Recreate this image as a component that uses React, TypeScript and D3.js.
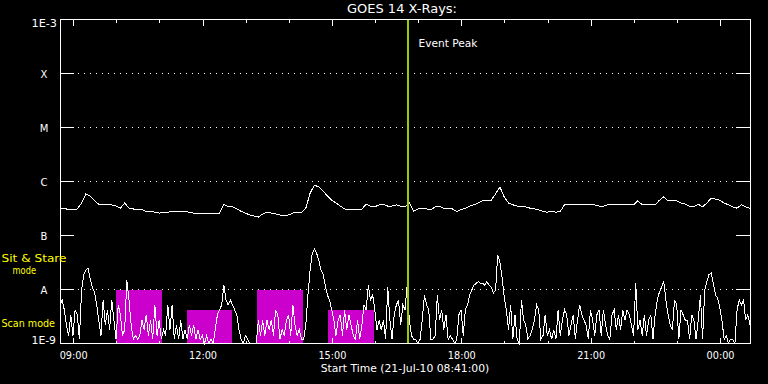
import React from "react";
import * as d3 from "d3";

// ---------------- DATA ----------------
const START_UTC = Date.UTC(2010, 6, 21, 8, 41); // 21-Jul-10 08:41:00
const SPAN_HOURS = 16;

// Long channel (1-8 A) flux, W/m^2, one sample every 6 minutes from start
const LONG_STEP_MIN = 6;
const longFlux = [
  3.1e-7, 3.2e-7, 3.0e-7, 3.0e-7, 3.1e-7, 4.0e-7, 5.9e-7, 5.4e-7, 4.4e-7, 3.8e-7,
  3.7e-7, 3.8e-7, 3.7e-7, 3.5e-7, 3.2e-7, 4.0e-7, 3.2e-7, 3.1e-7, 3.0e-7, 3.0e-7,
  2.8e-7, 2.8e-7, 2.7e-7, 2.6e-7, 2.7e-7, 2.7e-7, 2.8e-7, 2.8e-7, 2.8e-7, 2.8e-7,
  2.7e-7, 2.6e-7, 2.6e-7, 2.6e-7, 2.6e-7, 2.6e-7, 2.5e-7, 2.6e-7, 3.8e-7, 3.4e-7,
  3.4e-7, 3.1e-7, 2.8e-7, 2.6e-7, 2.4e-7, 2.3e-7, 2.2e-7, 2.5e-7, 2.7e-7, 2.6e-7,
  2.5e-7, 2.4e-7, 2.3e-7, 2.4e-7, 2.6e-7, 2.7e-7, 2.7e-7, 3.2e-7, 6.1e-7, 8.6e-7,
  7.9e-7, 6.7e-7, 5.4e-7, 4.5e-7, 4.0e-7, 3.5e-7, 3.1e-7, 3.0e-7, 3.0e-7, 3.0e-7,
  3.1e-7, 3.8e-7, 3.5e-7, 3.4e-7, 3.7e-7, 3.8e-7, 3.5e-7, 3.5e-7, 3.7e-7, 3.5e-7,
  3.4e-7, 4.0e-7, 2.8e-7, 3.1e-7, 3.2e-7, 3.1e-7, 3.0e-7, 3.4e-7, 3.5e-7, 3.2e-7,
  3.1e-7, 3.1e-7, 2.8e-7, 3.0e-7, 3.2e-7, 3.5e-7, 3.7e-7, 4.0e-7, 4.4e-7, 4.4e-7,
  4.5e-7, 5.9e-7, 7.9e-7, 5.2e-7, 4.0e-7, 3.7e-7, 3.5e-7, 3.5e-7, 3.4e-7, 3.2e-7,
  3.1e-7, 3.0e-7, 2.8e-7, 2.7e-7, 2.8e-7, 2.7e-7, 2.8e-7, 3.7e-7, 3.8e-7, 3.7e-7,
  3.7e-7, 3.8e-7, 3.7e-7, 3.8e-7, 3.7e-7, 3.5e-7, 3.5e-7, 3.7e-7, 3.7e-7, 3.8e-7,
  3.8e-7, 3.7e-7, 3.7e-7, 3.7e-7, 4.4e-7, 3.7e-7, 3.7e-7, 3.8e-7, 3.7e-7, 4.5e-7,
  5.2e-7, 4.4e-7, 4.5e-7, 4.4e-7, 4.0e-7, 3.8e-7, 3.5e-7, 3.4e-7, 3.8e-7, 3.4e-7,
  4.0e-7, 4.9e-7, 4.7e-7, 4.5e-7, 4.0e-7, 3.7e-7, 3.4e-7, 3.2e-7, 3.7e-7, 3.4e-7,
  3.2e-7,
];

// Short channel (0.5-4 A) flux, W/m^2, one sample every 3 minutes from start
const SHORT_STEP_MIN = 3;
const shortFlux = [
  5.2e-9, 6.4e-9, 4.2e-9, 2.2e-9, 1.4e-9, 3.4e-9, 1.4e-9, 4.2e-9, 3.4e-9, 1.2e-9,
  9.8e-9, 1.9e-8, 2.3e-8, 2.5e-8, 1.6e-8, 1.1e-8, 9.0e-9, 5.2e-9, 2.7e-9, 1.4e-9,
  6.4e-9, 2.2e-9, 4.2e-9, 1.8e-9, 6.4e-9, 2.7e-9, 1.2e-9, 5.2e-9, 3.4e-9, 1.4e-9,
  1.8e-9, 1.5e-8, 6.4e-9, 2.2e-9, 1.2e-9, 1.4e-9, 1.2e-9, 1.4e-9, 2.7e-9, 1.8e-9,
  3.4e-9, 1.4e-9, 2.7e-9, 1.2e-9, 5.2e-9, 1.4e-9, 2.7e-9, 1.2e-9, 1.8e-9, 1.4e-9,
  5.2e-9, 1.8e-9, 5.2e-9, 1.2e-9, 2.2e-9, 1.2e-9, 2.7e-9, 1.2e-9, 1.8e-9, 1.2e-9,
  2.2e-9, 1.4e-9, 2.2e-9, 1.2e-9, 1.8e-9, 1.2e-9, 1.4e-9, 1.0e-9, 1.4e-9, 1.0e-9,
  1.2e-9, 1.0e-9, 1.8e-9, 3.4e-9, 4.2e-9, 5.2e-9, 1.2e-8, 6.4e-9, 5.2e-9, 6.4e-9,
  5.2e-9, 4.2e-9, 3.4e-9, 1.8e-9, 1.2e-9, 1.0e-9, 1.4e-9, 1.2e-9, 1.0e-9, 1.0e-9,
  1.0e-9, 1.0e-9, 2.7e-9, 1.4e-9, 2.7e-9, 1.4e-9, 2.7e-9, 1.8e-9, 2.7e-9, 1.4e-9,
  4.2e-9, 3.4e-9, 1.2e-9, 1.8e-9, 1.4e-9, 2.7e-9, 3.4e-9, 1.4e-9, 5.2e-9, 2.2e-9,
  1.4e-9, 1.8e-9, 1.2e-9, 1.2e-9, 2.2e-9, 7.9e-9, 2.3e-8, 4.7e-8, 5.6e-8, 4.7e-8,
  3.5e-8, 2.3e-8, 1.9e-8, 1.2e-8, 7.9e-9, 6.4e-9, 4.2e-9, 2.7e-9, 1.4e-9, 2.7e-9,
  3.4e-9, 1.4e-9, 4.2e-9, 1.8e-9, 3.4e-9, 2.2e-9, 1.4e-9, 1.2e-9, 2.7e-9, 1.2e-9,
  2.2e-9, 5.2e-9, 4.2e-9, 1.2e-8, 6.4e-9, 7.9e-9, 4.2e-9, 1.8e-9, 2.7e-9, 1.8e-9,
  2.7e-9, 1.2e-9, 1.1e-8, 2.7e-9, 1.2e-9, 3.4e-9, 5.2e-9, 6.4e-9, 2.2e-9, 5.2e-9,
  4.2e-9, 1.2e-8, 2.7e-9, 1.4e-9, 1.2e-9, 1.2e-9, 1.0e-9, 1.2e-9, 2.7e-9, 7.9e-9,
  5.2e-9, 4.2e-9, 1.2e-9, 1.2e-9, 1.4e-9, 7.9e-9, 2.7e-9, 4.2e-9, 1.8e-9, 3.4e-9,
  1.2e-9, 1.4e-9, 1.2e-9, 1.0e-9, 1.2e-9, 3.4e-9, 4.2e-9, 1.4e-9, 4.2e-9, 5.2e-9,
  7.9e-9, 9.8e-9, 1.2e-8, 1.3e-8, 1.4e-8, 1.3e-8, 1.3e-8, 1.2e-8, 1.4e-8, 1.2e-8,
  1.1e-8, 8.6e-9, 9.8e-9, 4.4e-8, 3.2e-8, 1.7e-8, 7.3e-9, 4.2e-9, 1.8e-9, 5.2e-9,
  1.2e-9, 3.4e-9, 1.2e-9, 1.0e-9, 6.4e-9, 2.7e-9, 2.2e-9, 1.2e-9, 1.4e-9, 1.8e-9,
  2.7e-9, 5.2e-9, 4.2e-9, 1.2e-9, 1.4e-9, 3.4e-9, 1.4e-9, 1.8e-9, 1.2e-9, 1.8e-9,
  1.2e-9, 4.2e-9, 1.4e-9, 2.7e-9, 4.2e-9, 3.4e-9, 1.4e-9, 2.2e-9, 3.4e-9, 1.2e-9,
  2.7e-9, 5.2e-9, 3.4e-9, 2.7e-9, 2.2e-9, 1.2e-9, 4.2e-9, 2.7e-9, 1.4e-9, 3.4e-9,
  4.2e-9, 1.4e-9, 4.2e-9, 2.2e-9, 1.4e-9, 1.2e-9, 3.4e-9, 4.2e-9, 1.8e-9, 3.4e-9,
  1.8e-9, 4.2e-9, 2.7e-9, 4.2e-9, 3.4e-9, 2.2e-9, 1.4e-9, 1.3e-8, 1.8e-9, 2.7e-9,
  1.4e-9, 3.4e-9, 1.4e-9, 2.7e-9, 3.4e-9, 1.2e-9, 3.4e-9, 6.4e-9, 9.0e-9, 1.1e-8,
  1.4e-8, 6.4e-9, 3.4e-9, 2.2e-9, 1.8e-9, 6.4e-9, 5.2e-9, 1.2e-9, 4.2e-9, 3.4e-9,
  2.7e-9, 2.7e-9, 1.2e-9, 3.4e-9, 2.7e-9, 1.2e-9, 2.7e-9, 7.9e-9, 1.2e-9, 9.8e-9,
  1.4e-8, 1.9e-8, 2.0e-8, 1.3e-8, 7.9e-9, 7.0e-9, 4.5e-9, 2.7e-9, 1.2e-9, 1.4e-9,
  1.0e-9, 1.2e-9, 1.2e-9, 1.0e-9, 4.2e-9, 6.4e-9, 5.2e-9, 6.4e-9, 2.7e-9, 3.4e-9,
  2.2e-9,
];

// Y axis labels (flux levels)
const levelFlux = [1e-9, 1e-8, 1e-7, 1e-6, 1e-5, 1e-4, 1e-3];
const levelLabels = ["1E-9", "A", "B", "C", "M", "X", "1E-3"];
const gridLevels = [1e-8, 1e-6, 1e-5, 1e-4];

// SXI mode intervals (magenta)
const modeStart = ["09:59", "11:38", "13:15", "14:54"];
const modeEnd = ["11:03", "12:40", "14:19", "15:58"];
const modeLevel = [1e-8, 4.2e-9, 1e-8, 4.2e-9];

const eventPeak = "16:45";
const titleText = "GOES 14 X-Rays:";
const xTitleText = "Start Time (21-Jul-10 08:41:00)";

// ---------------- CHART ----------------
const W = 768;
const H = 384;
const X0 = 60;
const X1 = 750;
const Y_TOP = 19.5;
const Y_BOT = 343.5;

function hm(s: string): Date {
  const [h, m] = s.split(":").map(Number);
  return new Date(Date.UTC(2010, 6, 21, h, m));
}

const FONT = "'DejaVu Sans', sans-serif";

export default function App() {
  const start = new Date(START_UTC);
  const end = new Date(START_UTC + SPAN_HOURS * 3600e3);
  const xs = d3.scaleUtc().domain([start, end]).range([X0, X1]);
  const ys = d3.scaleLog().domain([1e-9, 1e-3]).range([Y_BOT, Y_TOP]).clamp(true);

  const longPts = longFlux.map((v, i) => [new Date(START_UTC + i * LONG_STEP_MIN * 60e3), v] as [Date, number]);
  const shortPts = shortFlux.map((v, i) => [new Date(START_UTC + i * SHORT_STEP_MIN * 60e3), v] as [Date, number]);
  const line = d3
    .line<[Date, number]>()
    .x((d) => xs(d[0]))
    .y((d) => ys(d[1]));

  const hourTicks = xs.ticks(d3.utcHour.every(1)!);
  const fmt = d3.utcFormat("%H:%M");

  const px = (v: number) => Math.round(v) + 0.5;

  return (
    <svg
      width={W}
      height={H}
      style={{ position: "absolute", left: 0, top: 0, display: "block" }}
      fontFamily={FONT}
    >
      <rect x={0} y={0} width={W} height={H} fill="#000" />

      {/* mode bars */}
      {modeStart.map((s, i) => {
        const xa = xs(hm(s));
        const xb = xs(hm(modeEnd[i]));
        const yt = ys(modeLevel[i]);
        return (
          <rect
            key={"m" + i}
            x={Math.round(xa)}
            y={Math.round(yt)}
            width={Math.round(xb) - Math.round(xa)}
            height={Y_BOT - Math.round(yt)}
            fill="#cc00cc"
            shapeRendering="crispEdges"
          />
        );
      })}

      {/* grid dotted lines + level ticks */}
      {gridLevels.map((v, i) => (
        <line
          key={"g" + i}
          x1={78}
          x2={736}
          y1={px(ys(v) - 0.5)}
          y2={px(ys(v) - 0.5)}
          stroke="#fff"
          strokeDasharray="1 5"
          shapeRendering="crispEdges"
        />
      ))}
      {levelFlux.slice(1, -1).map((v, i) => (
        <g key={"lt" + i} shapeRendering="crispEdges" stroke="#fff">
          <line x1={X0} x2={X0 + 14} y1={px(ys(v) - 0.5)} y2={px(ys(v) - 0.5)} />
          <line x1={X1 - 14} x2={X1} y1={px(ys(v) - 0.5)} y2={px(ys(v) - 0.5)} />
        </g>
      ))}

      {/* data */}
      <path d={line(longPts) || ""} fill="none" stroke="#fff" strokeWidth={1} shapeRendering="crispEdges" />
      <path d={line(shortPts) || ""} fill="none" stroke="#fff" strokeWidth={1} shapeRendering="crispEdges" />

      {/* event peak */}
      <line
        x1={Math.round(xs(hm(eventPeak)))}
        x2={Math.round(xs(hm(eventPeak)))}
        y1={Y_TOP}
        y2={Y_BOT}
        stroke="#99cc00"
        strokeWidth={2}
        shapeRendering="crispEdges"
      />
      <text x={418.5} y={46.5} fill="#fff" fontSize={10} textLength={59} lengthAdjust="spacingAndGlyphs">
        Event Peak
      </text>

      {/* frame */}
      <rect
        x={X0 + 0.5}
        y={Y_TOP}
        width={X1 - X0}
        height={Y_BOT - Y_TOP}
        fill="none"
        stroke="#fff"
        shapeRendering="crispEdges"
      />

      {/* time ticks top & bottom */}
      {hourTicks.map((t, i) => {
        const major = t.getUTCHours() % 3 === 0;
        const len = major ? 6 : 3;
        const x = px(xs(t) - 0.5);
        return (
          <g key={"t" + i} stroke="#fff" shapeRendering="crispEdges">
            <line x1={x} x2={x} y1={Y_TOP} y2={Y_TOP + len} />
            <line x1={x} x2={x} y1={Y_BOT} y2={Y_BOT - len} />
          </g>
        );
      })}
      {hourTicks
        .filter((t) => t.getUTCHours() % 3 === 0)
        .map((t, i) => (
          <text
            key={"tl" + i}
            x={xs(t)}
            y={358.5}
            fill="#fff"
            fontSize={10}
            textAnchor="middle"
            textLength={28}
            lengthAdjust="spacingAndGlyphs"
          >
            {fmt(t)}
          </text>
        ))}

      {/* y labels */}
      {levelFlux.map((v, i) => {
        const lab = levelLabels[i];
        const y = ys(v);
        if (i === 0)
          return (
            <text key={"yl" + i} x={31.5} y={y} fill="#fff" fontSize={10} textLength={24.5} lengthAdjust="spacingAndGlyphs">
              {lab}
            </text>
          );
        if (i === levelFlux.length - 1)
          return (
            <text key={"yl" + i} x={31.5} y={y + 7.3} fill="#fff" fontSize={10} textLength={25.5} lengthAdjust="spacingAndGlyphs">
              {lab}
            </text>
          );
        return (
          <text key={"yl" + i} x={44} y={y + 4} fill="#fff" fontSize={10} textAnchor="middle">
            {lab}
          </text>
        );
      })}

      {/* mode labels */}
      <text x={1.5} y={262} fill="#ffff00" fontSize={10} textLength={65} lengthAdjust="spacingAndGlyphs">
        Sit &amp; Stare
      </text>
      <text x={12.5} y={274.3} fill="#ffff00" fontSize={10} textLength={23.5} lengthAdjust="spacingAndGlyphs">
        mode
      </text>
      <text x={1.5} y={327.3} fill="#ffff00" fontSize={10} textLength={53.5} lengthAdjust="spacingAndGlyphs">
        Scan mode
      </text>

      {/* titles */}
      <text x={347} y={13.3} fill="#fff" fontSize={11.5} textLength={110} lengthAdjust="spacingAndGlyphs">
        {titleText}
      </text>
      <text x={320.7} y={371.7} fill="#fff" fontSize={10} textLength={168.6} lengthAdjust="spacingAndGlyphs">
        {xTitleText}
      </text>
    </svg>
  );
}
